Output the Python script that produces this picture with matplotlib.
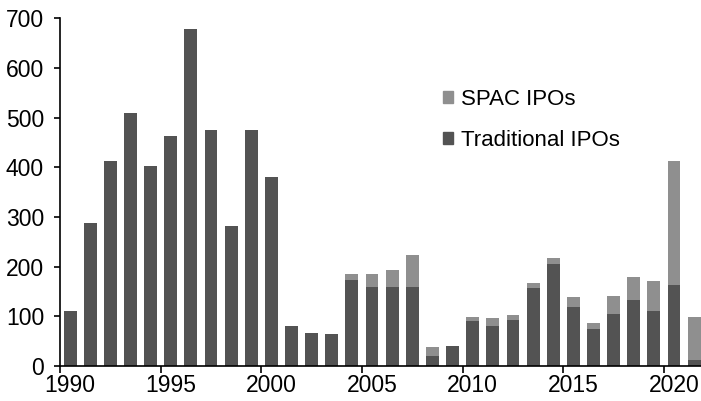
import numpy as np
import matplotlib
matplotlib.use('Agg')
import matplotlib.pyplot as plt
from matplotlib.patches import Patch

plt.rcParams['font.family'] = ['Liberation Sans', 'DejaVu Sans']

# IPO counts by year
years = list(range(1990, 2022))
traditional = [110, 287, 413, 510, 403, 463, 678, 475, 281, 476,
               381, 81, 66, 64, 173, 159, 159, 159, 20, 41,
               91, 81, 93, 158, 205, 118, 74, 105, 133, 111,
               163, 13]
spac = [0, 0, 0, 0, 0, 0, 0, 0, 0, 0,
        0, 0, 0, 0, 13, 27, 34, 65, 18, 0,
        7, 16, 9, 10, 13, 21, 13, 36, 47, 60,
        250, 86]
label_years = [1990, 1995, 2000, 2005, 2010, 2015, 2020]

dark = '#535353'
light = '#8f8f8f'

fig = plt.figure(figsize=(7.01, 4.01), dpi=100)
ax = fig.add_axes([60/701, 1 - 366/401, 1 - 60/701, (366 - 18.3)/401])

x = np.array(years)
ax.bar(x, traditional, width=0.64, color=dark)
ax.bar(x, spac, width=0.64, bottom=traditional, color=light)

ax.set_xlim(1989.5, 2021.34)
ax.set_ylim(0, 700)
ax.set_yticks(range(0, 701, 100))

# ticks sit between categories, labels centred under the bars
ax.set_xticks([y - 0.5 for y in label_years])
ax.set_xticklabels([])
ax.set_xticks(label_years, minor=True)
ax.set_xticklabels([str(y) for y in label_years], minor=True)
ax.tick_params(axis='x', which='major', direction='out', length=5, width=1.2, color='black')
ax.tick_params(axis='x', which='minor', length=0, pad=6, labelsize=16.5)
ax.tick_params(axis='y', direction='out', length=4.5, width=1.2, pad=7, labelsize=16.5)

for side in ['top', 'right']:
    ax.spines[side].set_visible(False)
for side in ['left', 'bottom']:
    ax.spines[side].set_linewidth(1.2)

handles = [Patch(color=light, label='SPAC IPOs'),
           Patch(color=dark, label='Traditional IPOs')]
fig.legend(handles=handles, loc='upper left', bbox_to_anchor=(443/701, 1 - 89/401),
           frameon=False, fontsize=16, handlelength=0.45, handleheight=0.45,
           handletextpad=0.36, labelspacing=0.88, borderpad=0, borderaxespad=0)

fig.savefig('out.png', dpi=100)
